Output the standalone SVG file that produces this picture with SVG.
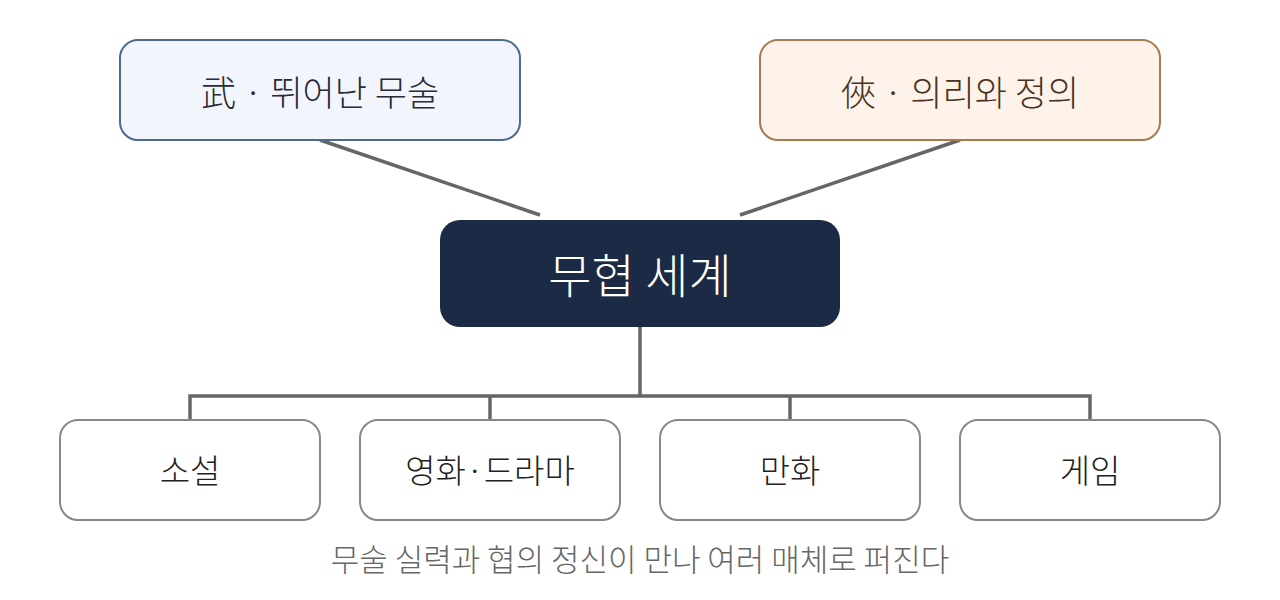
<svg xmlns="http://www.w3.org/2000/svg" width="1280" height="600" viewBox="0 0 1280 600">
<style>
text{font-family:"Noto Sans CJK KR","Noto Sans",sans-serif;text-anchor:middle;dominant-baseline:central;font-weight:300}
.conn{stroke:#666;stroke-width:3.5;fill:none}
.media rect{fill:#fff;stroke:#888;stroke-width:2}
.media text{font-size:33px;fill:#222}
</style>
<rect width="1280" height="600" fill="#fff"/>
<g id="connectors">
<line class="conn" x1="320" y1="140" x2="540" y2="215"/>
<line class="conn" x1="960" y1="140" x2="740" y2="215"/>
<polyline class="conn" points="640,327 640,396"/>
<polyline class="conn" points="190,420 190,396 1090,396 1090,420"/>
<line class="conn" x1="490" y1="396" x2="490" y2="420"/>
<line class="conn" x1="790" y1="396" x2="790" y2="420"/>
</g>
<g id="wu">
<rect x="120" y="40" width="400" height="100" rx="18" fill="#f2f6fc" stroke="#4a6a90" stroke-width="2"/>
<text x="320" y="90" font-size="35" fill="#2a2a35">武 · 뛰어난 무술</text>
</g>
<g id="xia">
<rect x="760" y="40" width="400" height="100" rx="18" fill="#fdf3ea" stroke="#a87a50" stroke-width="2"/>
<text x="960" y="90" font-size="35" fill="#4a3222">俠 · 의리와 정의</text>
</g>
<g id="center">
<rect x="440" y="220" width="400" height="107" rx="20" fill="#1b2a45"/>
<text x="640" y="272" font-size="47" fill="#fff">무협 세계</text>
</g>
<g id="novel" class="media"><rect x="60" y="420" width="260" height="100" rx="18"/><text x="190" y="469">소설</text></g>
<g id="film" class="media"><rect x="360" y="420" width="260" height="100" rx="18"/><text x="490" y="469">영화·드라마</text></g>
<g id="comic" class="media"><rect x="660" y="420" width="260" height="100" rx="18"/><text x="790" y="469">만화</text></g>
<g id="game" class="media"><rect x="960" y="420" width="260" height="100" rx="18"/><text x="1090" y="469">게임</text></g>
<text x="640" y="557" font-size="31" fill="#666">무술 실력과 협의 정신이 만나 여러 매체로 퍼진다</text>
</svg>
